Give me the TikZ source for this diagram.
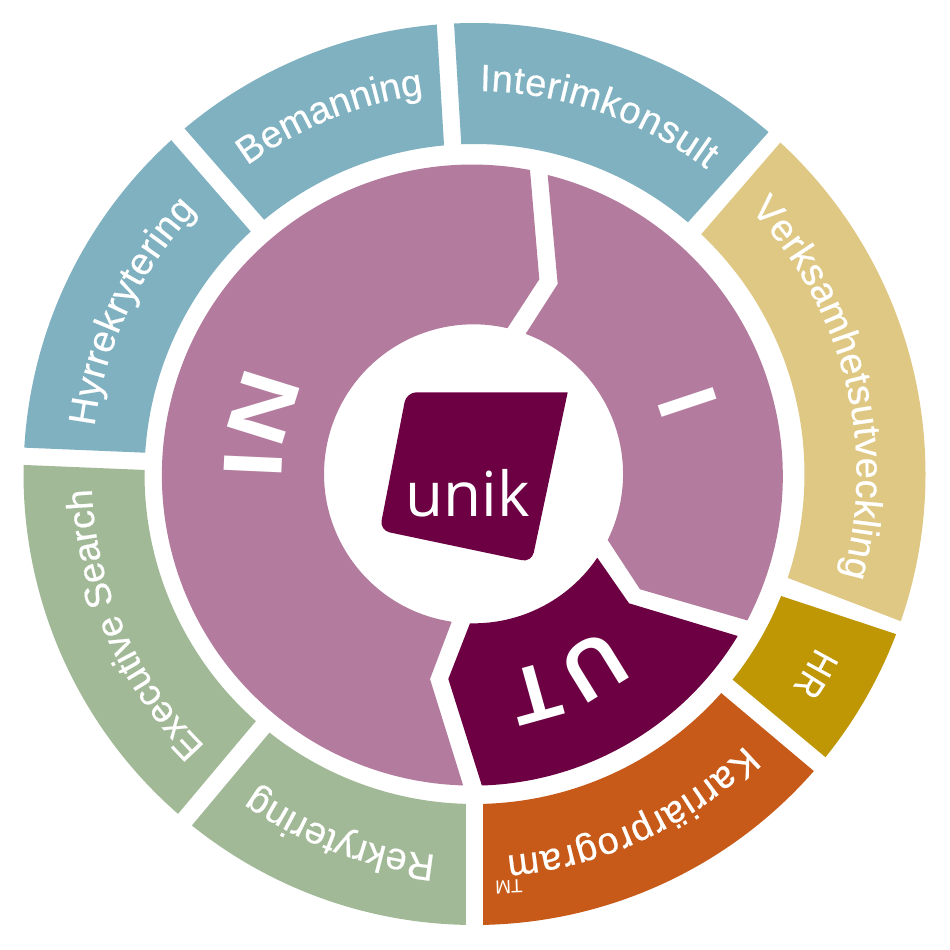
\documentclass[tikz,border=0pt]{standalone}
\usepackage{fontspec}
\setmainfont{Liberation Sans}
\newfontfamily\logofont{Open Sans}
\newfontfamily\labfont[FakeBold=0.5]{Liberation Sans}
\newfontfamily\hrfont[FakeBold=0.5,FakeStretch=0.82]{Liberation Sans}
\newfontfamily\infont[FakeStretch=1.18]{Liberation Sans}
\usetikzlibrary{decorations.text}
\definecolor{cblue}{HTML}{7FB1C0}
\definecolor{csage}{HTML}{A1B996}
\definecolor{csand}{HTML}{DFC883}
\definecolor{cgold}{HTML}{BF9705}
\definecolor{corange}{HTML}{C75A18}
\definecolor{cpink}{HTML}{B37C9E}
\definecolor{cdark}{HTML}{6C0043}
% outer-ring segment: colour, outer start/end angle, inner start/end angle
\newcommand{\ringseg}[5]{\fill[#1] ([shift={(#2:451pt)}]C) arc[start angle=#2,end angle=#3,radius=451pt] -- ([shift={(#4:330pt)}]C) arc[start angle=#4,end angle=#5,radius=330pt] -- cycle;}
% curved white label: [font], text, start, end angle, font size, radius
\newcommand{\arclabel}[6][\labfont]{\path[decorate,decoration={text along path,text align={fit to path},text={|#1\fontsize{#5}{#5}\selectfont\color{white}|#2}}] ([shift={(#3:#6pt)}]C) arc[start angle=#3,end angle=#4,radius=#6pt];}
\begin{document}
\begin{tikzpicture}[x=1pt,y=1pt]
\useasboundingbox (0,0) rectangle (950,950);
\fill[white] (0,0) rectangle (950,950);
\coordinate (C) at (474.5,476);
% outer ring
\ringseg{cblue}{92.6}{49.3}{49.7}{92.3}
\ringseg{csand}{47.3}{-19.05}{-18.35}{46.6}
\ringseg{cgold}{-20.8}{-38.9}{-38.55}{-21.7}
\ringseg{corange}{-41.2}{-88.9}{-88.5}{-41.6}
\ringseg{csage}{268.9}{231.2}{231.6}{268.5}
\ringseg{csage}{228.9}{178.85}{179.3}{228.5}
\ringseg{cblue}{176.65}{132.25}{132.7}{176.3}
\ringseg{cblue}{130}{94.8}{95.3}{129.6}
% inner ring
\fill[cpink] (547.7,775) arc[start angle=75.95,end angle=-27.67,radius=310.5pt] -- (640,360.7) -- (607.7,410) arc[start angle=-26.2,end angle=69.6,radius=149.5pt] -- (557.7,666) -- cycle;
\fill[cdark] (597.7,391.7) -- (629,346.7) -- (737.7,314) arc[start angle=-31.2,end angle=-88.2,radius=310.5pt] -- (448.3,271) -- (470,326.7) arc[start angle=-91.35,end angle=-34.2,radius=149.5pt] -- cycle;
\fill[cpink] (530,780) arc[start angle=79.3,end angle=268.3,radius=310.5pt] -- (430,271) -- (451.7,328.3) arc[start angle=261.6,end angle=76.9,radius=149.5pt] -- (539.3,670.7) -- cycle;
% logo
\fill[cdark] (567.7,557.7) [rounded corners=10pt] -- (406.5,557.7) -- (379.7,419.7) -- (531.7,387.7) [sharp corners] -- cycle;
\node[anchor=base,inner sep=0pt,text=white,font=\logofont\fontsize{62}{62}\selectfont] (logo) at (467.5,433.3) {unik};
% labels
\arclabel{Interimkonsult}{89.2}{52.7}{38}{383}
\arclabel{Verksamhetsutveckling}{43.8}{-15.5}{38}{382}
\arclabel[\hrfont]{HR}{-26.9}{-33.9}{38}{383}
\arclabel{Karriärprogram}{-45.1}{-85.2}{38}{383}
\arclabel{Rekrytering}{264.2}{235}{38}{383}
\arclabel{Executive Search}{225.3}{182.4}{37}{383}
\arclabel{Hyrrekrytering}{172.9}{136.5}{38}{383}
\arclabel{Bemanning}{126.4}{98.6}{38}{383}
\node[inner sep=0pt,text=white,rotate=182,font=\fontsize{19}{19}\selectfont] (tm) at (509,63) {TM};
% big labels
\arclabel[\infont\bfseries]{IN}{181.5}{155}{84}{192.5}
\arclabel[\bfseries]{UT}{-50}{-81.5}{80}{200}
\node[inner sep=0pt,text=white,rotate=-71.6,font=\bfseries\fontsize{84}{84}\selectfont] (i) at (688,548) {I};
\end{tikzpicture}
\end{document}
